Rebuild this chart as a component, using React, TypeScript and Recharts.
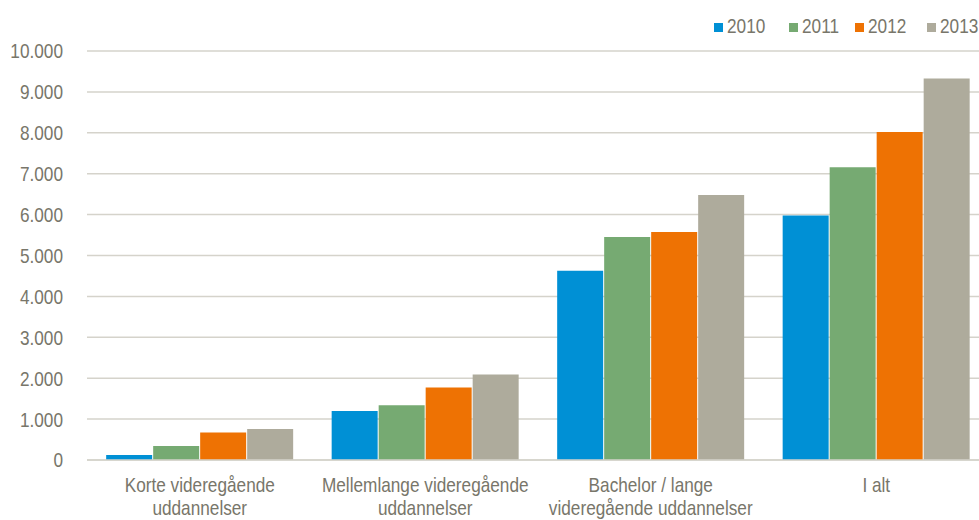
import React from "react";
import { BarChart, Bar, XAxis, YAxis, CartesianGrid, Legend } from "recharts";

const categories = [
  "Korte videregående uddannelser",
  "Mellemlange videregående uddannelser",
  "Bachelor / lange videregående uddannelser",
  "I alt",
];
// linjeskift som i originalen
const categoryLines = [
  ["Korte videregående", "uddannelser"],
  ["Mellemlange videregående", "uddannelser"],
  ["Bachelor / lange", "videregående uddannelser"],
  ["I alt"],
];
const years = ["2010", "2011", "2012", "2013"];
const values2010 = [120, 1200, 4630, 5980];
const values2011 = [340, 1340, 5450, 7155];
const values2012 = [670, 1770, 5575, 8020];
const values2013 = [760, 2090, 6480, 9330];
const yTicks = [0, 1000, 2000, 3000, 4000, 5000, 6000, 7000, 8000, 9000, 10000];

const colors = ["#0090D5", "#76AA72", "#EE7203", "#AEAB9C"];
const textColor = "#78766A";
const gridColor = "#D5D3CB";
// Arial Narrow findes ikke, så Liberation Sans presses vandret
const font = '"Liberation Sans", Arial, sans-serif';
const narrow = 0.82;
const fontSize = 21;

const data = categories.map((name, i) => ({
  name,
  "2010": values2010[i],
  "2011": values2011[i],
  "2012": values2012[i],
  "2013": values2013[i],
}));

const fmt = (v: number) => v.toLocaleString("de-DE");

const ValueTick = (props: any) => {
  const { x, y, payload } = props;
  return (
    <text
      transform={`translate(${x},${y}) scale(${narrow},1)`}
      textAnchor="end"
      dy="0.355em"
      fill={textColor}
      fontSize={fontSize}
      fontFamily={font}
    >
      {fmt(payload.value)}
    </text>
  );
};

const CategoryTick = (props: any) => {
  const { x, y, payload, index } = props;
  const lines = categoryLines[index] || [payload.value];
  return (
    <text
      transform={`translate(${x},${y}) scale(${narrow},1)`}
      textAnchor="middle"
      fill={textColor}
      fontSize={fontSize}
      fontFamily={font}
    >
      {lines.map((l, i) => (
        <tspan key={i} x={0} y={24 + i * 23.5}>
          {l}
        </tspan>
      ))}
    </text>
  );
};

const legendX = [714, 789, 855, 927];

const LegendContent = () => (
  <div style={{ height: 51, position: "relative", fontFamily: font, fontSize, color: textColor }}>
    {years.map((y, i) => (
      <div key={y}>
        <span
          style={{ position: "absolute", left: legendX[i], top: 23, width: 9, height: 9, background: colors[i] }}
        />
        <span
          style={{
            position: "absolute",
            left: legendX[i] + 13,
            top: 14,
            lineHeight: "24px",
            transform: `scaleX(${narrow})`,
            transformOrigin: "left center",
            whiteSpace: "nowrap",
          }}
        >
          {y}
        </span>
      </div>
    ))}
  </div>
);

export default function App() {
  return (
    <div style={{ position: "absolute", left: 0, top: 0, width: 979, height: 520, overflow: "hidden", background: "#fff" }}>
      <BarChart
        width={989}
        height={520}
        data={data}
        margin={{ top: 0, right: 0, bottom: 0, left: 0 }}
        barCategoryGap="8.5%"
        barGap={1}
      >
        <CartesianGrid vertical={false} stroke={gridColor} strokeWidth={1.5} />
        <Legend verticalAlign="top" align="left" content={<LegendContent />} wrapperStyle={{ top: 0, left: 0, width: 979 }} />
        <YAxis
          width={87}
          domain={[0, 10000]}
          ticks={yTicks}
          axisLine={false}
          tickLine={false}
          tickSize={0}
          tickMargin={24}
          interval={0}
          tick={<ValueTick />}
        />
        <XAxis
          dataKey="name"
          height={60}
          axisLine={{ stroke: gridColor, strokeWidth: 1.5 }}
          tickLine={false}
          interval={0}
          tick={<CategoryTick />}
        />
        {years.map((y, i) => (
          <Bar key={y} dataKey={y} fill={colors[i]} isAnimationActive={false} />
        ))}
      </BarChart>
    </div>
  );
}
